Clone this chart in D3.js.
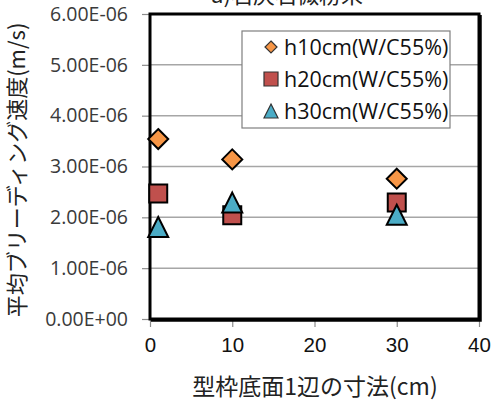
<!DOCTYPE html>
<html>
<head>
<meta charset="utf-8">
<script src="https://cdn.jsdelivr.net/npm/d3@7/dist/d3.min.js"></script>
<style>
  html, body { margin: 0; padding: 0; background: #fff; }
  svg { display: block; }
</style>
</head>
<body>
<svg id="chart" width="497" height="403"></svg>
<script>
// Bottom side length of the mould (cm)
const sizes = [1, 10, 30];
// Average bleeding rate (m/s) per specimen height
const h10 = [3.54e-6, 3.14e-6, 2.76e-6];
const h20 = [2.47e-6, 2.04e-6, 2.29e-6];
const h30 = [1.81e-6, 2.29e-6, 2.05e-6];
const seriesNames = ["h10cm(W/C55%)", "h20cm(W/C55%)", "h30cm(W/C55%)"];
const xTicks = [0, 10, 20, 30, 40];
const yTicks = [0, 1e-6, 2e-6, 3e-6, 4e-6, 5e-6, 6e-6];

// Marker shapes drawn inside a w×w box centred on the point (size = w)
const diamond = { draw(ctx, w) { const r = w / 2; ctx.moveTo(0, -r); ctx.lineTo(r, 0); ctx.lineTo(0, r); ctx.lineTo(-r, 0); ctx.closePath(); } };
const square = { draw(ctx, w) { const r = w / 2; ctx.rect(-r, -r, w, w); } };
const triangle = { draw(ctx, w) { const r = w / 2; ctx.moveTo(0, -r); ctx.lineTo(r, r); ctx.lineTo(-r, r); ctx.closePath(); } };

const series = [
  { name: seriesNames[0], values: h10, shape: diamond, fill: "#F79646", w: 20, lw: 12 },
  { name: seriesNames[1], values: h20, shape: square, fill: "#C0504D", w: 18, lw: 14 },
  { name: seriesNames[2], values: h30, shape: triangle, fill: "#4BACC6", w: 20, lw: 14 }
];

const svg = d3.select("#chart");
const plotL = 150, plotR = 479, plotT = 14, plotB = 319;

const x = d3.scaleLinear().domain([0, 40]).range([plotL, plotR]);
const y = d3.scaleLinear().domain([0, 6e-6]).range([plotB, plotT]);

// Title (runs off the top edge)
svg.append("text")
  .attr("x", 287).attr("y", 3)
  .attr("text-anchor", "middle")
  .attr("font-family", "'Noto Sans CJK JP', sans-serif")
  .attr("font-size", 22)
  .attr("fill", "#222")
  .text("a)石灰石微粉末");

// Horizontal gridlines
svg.append("g")
  .selectAll("line")
  .data(yTicks.slice(1, -1))
  .join("line")
  .attr("x1", plotL).attr("x2", plotR)
  .attr("y1", d => y(d)).attr("y2", d => y(d))
  .attr("stroke", "#A6A6A6")
  .attr("stroke-width", 1.5);

// Y axis
const yAxis = svg.append("g")
  .attr("transform", `translate(${plotL},0)`)
  .call(d3.axisLeft(y).tickValues(yTicks).tickSize(8).tickPadding(14)
    .tickFormat(d => d === 0 ? "0.00E+00" : (d / 1e-6).toFixed(2) + "E-06"));
yAxis.select(".domain").remove();
yAxis.selectAll(".tick line").attr("stroke", "#8c8c8c").attr("stroke-width", 1.2);
yAxis.selectAll(".tick text")
  .attr("font-family", "'Open Sans', sans-serif")
  .attr("font-size", 19.5)
  .attr("fill", "#3a3a3a");

// X axis
const xAxis = svg.append("g")
  .attr("transform", `translate(0,${plotB})`)
  .call(d3.axisBottom(x).tickValues(xTicks).tickSize(8).tickPadding(10)
    .tickFormat(d3.format("d")));
xAxis.select(".domain").remove();
xAxis.selectAll(".tick line").attr("stroke", "#8c8c8c").attr("stroke-width", 1.2);
xAxis.selectAll(".tick text")
  .attr("font-family", "'Liberation Sans', Arial, sans-serif")
  .attr("font-size", 20.5)
  .attr("fill", "#111");

// Plot area frame, heavier on the right and bottom
svg.append("rect")
  .attr("x", plotL).attr("y", plotT)
  .attr("width", plotR - plotL).attr("height", plotB - plotT)
  .attr("fill", "none")
  .attr("stroke", "#000")
  .attr("stroke-width", 3);
svg.append("path")
  .attr("d", `M${plotR + 1.5},${plotT + 1}V${plotB + 1.5}H${plotL + 1}`)
  .attr("fill", "none")
  .attr("stroke", "#000")
  .attr("stroke-width", 2.5);

// Markers
series.forEach(s => {
  svg.append("g")
    .selectAll("path")
    .data(s.values.map((v, i) => ({ x: sizes[i], v })))
    .join("path")
    .attr("d", d3.symbol().type(s.shape).size(s.w))
    .attr("transform", d => `translate(${x(d.x)},${y(d.v)})`)
    .attr("fill", s.fill)
    .attr("stroke", "#000")
    .attr("stroke-width", 2);
});

// Legend
const lg = svg.append("g");
lg.append("rect")
  .attr("x", 242).attr("y", 31)
  .attr("width", 208).attr("height", 97)
  .attr("fill", "#fff")
  .attr("stroke", "#7f7f7f")
  .attr("stroke-width", 1.2);
series.forEach((s, i) => {
  const cy = 47 + i * 32;
  lg.append("path")
    .attr("d", d3.symbol().type(s.shape).size(s.lw))
    .attr("transform", `translate(271,${cy})`)
    .attr("fill", s.fill)
    .attr("stroke", "#333")
    .attr("stroke-width", 1.2);
  lg.append("text")
    .attr("x", 284).attr("y", cy)
    .attr("dy", "0.36em")
    .attr("font-family", "'Open Sans', sans-serif")
    .attr("font-size", 21.5)
    .attr("fill", "#111")
    .text(s.name);
});

// Axis titles
svg.append("text")
  .attr("x", 315).attr("y", 395)
  .attr("text-anchor", "middle")
  .attr("font-family", "'Noto Sans CJK JP', sans-serif")
  .attr("font-size", 23)
  .attr("fill", "#222")
  .text("型枠底面1辺の寸法(cm)");

svg.append("text")
  .attr("transform", "translate(25,170) rotate(-90)")
  .attr("text-anchor", "middle")
  .attr("font-family", "'Noto Sans CJK JP', sans-serif")
  .attr("font-size", 22)
  .attr("fill", "#222")
  .text("平均ブリーディング速度(m/s)");
</script>
</body>
</html>
